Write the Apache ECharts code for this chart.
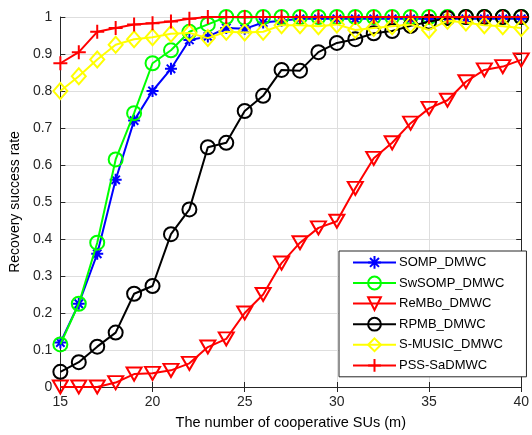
<!DOCTYPE html>
<html>
<head>
<meta charset="utf-8">
<script src="https://cdn.jsdelivr.net/npm/echarts@6/dist/echarts.min.js"></script>
<style>
  html, body { margin: 0; padding: 0; background: #fff; }
  #chart { width: 532px; height: 435px; }
</style>
</head>
<body>
<div id="chart"></div>
<script>
  // number of cooperative SUs
  const xData = [15, 16, 17, 18, 19, 20, 21, 22, 23, 24, 25, 26, 27, 28, 29, 30, 31, 32, 33, 34, 35, 36, 37, 38, 39, 40]

  const sompData = [0.12, 0.225, 0.36, 0.56, 0.72, 0.80, 0.86, 0.938, 0.947, 0.97, 0.968, 0.985, 0.99, 0.995, 0.995, 0.995, 0.995, 0.995, 0.995, 0.995, 0.995, 0.995, 0.995, 0.995, 0.995, 0.995]
  const swsompData = [0.115, 0.225, 0.39, 0.615, 0.74, 0.875, 0.91, 0.96, 0.98, 1.0, 0.998, 1.0, 1.0, 1.0, 1.0, 1.0, 1.0, 1.0, 1.0, 1.0, 1.0, 1.0, 1.0, 1.0, 1.0, 1.0]
  const rembo = [0.0, 0.0, 0.0, 0.012, 0.035, 0.037, 0.045, 0.064, 0.108, 0.13, 0.2, 0.25, 0.335, 0.39, 0.43, 0.448, 0.537, 0.618, 0.66, 0.713, 0.753, 0.775, 0.825, 0.857, 0.866, 0.884]
  const rpmbData = [0.041, 0.067, 0.109, 0.147, 0.252, 0.273, 0.413, 0.48, 0.648, 0.66, 0.746, 0.787, 0.857, 0.855, 0.905, 0.93, 0.94, 0.956, 0.962, 0.976, 0.987, 0.997, 1.0, 1.0, 1.0, 1.0]
  const smusicData = [0.80, 0.84, 0.885, 0.925, 0.94, 0.945, 0.955, 0.957, 0.943, 0.96, 0.958, 0.96, 0.978, 0.978, 0.975, 0.98, 0.965, 0.97, 0.975, 0.98, 0.965, 0.99, 0.985, 0.978, 0.975, 0.97]
  const pssData = [0.875, 0.905, 0.96, 0.97, 0.98, 0.983, 0.988, 0.995, 1.0, 1.0, 1.0, 1.0, 1.0, 1.0, 1.0, 1.0, 1.0, 1.0, 1.0, 1.0, 1.0, 1.0, 1.0, 1.0, 1.0, 1.0]

  const yTicks = ['0', '0.1', '0.2', '0.3', '0.4', '0.5', '0.6', '0.7', '0.8', '0.9', '1']

  const starPath = 'path://M10,0L10,20M0,10L20,10M3,3L17,17M3,17L17,3'
  const plusPath = 'path://M10,0L10,20M0,10L20,10'
  const triDown = 'path://M0,0L20,0L10,17Z'

  const fontFamily = '"Liberation Sans", Arial, sans-serif'

  function mkSeries(name, data, color, symbol, size, z) {
    return {
      name: name,
      type: 'line',
      z: z,
      data: data.map((v, i) => [xData[i], v]),
      symbol: symbol,
      symbolSize: size,
      clip: false,
      lineStyle: { color: color, width: 2 },
      itemStyle: { color: 'rgba(255,255,255,0)', borderColor: color, borderWidth: 2 },
      emphasis: { disabled: true }
    }
  }

  const chart = echarts.init(document.getElementById('chart'), null, { renderer: 'canvas' })
  chart.setOption({
    animation: false,
    textStyle: { fontFamily: fontFamily },
    grid: { left: 58, right: 5, top: 17, bottom: 48, containLabel: false },
    legend: {
      orient: 'vertical',
      left: 339,
      top: 251,
      padding: [4, 22, 4, 13],
      itemGap: 5.8,
      itemWidth: 43,
      itemHeight: 16,
      z: 20,
      backgroundColor: '#fff',
      borderColor: '#262626',
      borderWidth: 1,
      textStyle: { fontSize: 13, color: '#000', fontFamily: fontFamily, padding: [0, 0, 0, -2] },
      data: ['SOMP_DMWC', 'SwSOMP_DMWC', 'ReMBo_DMWC', 'RPMB_DMWC', 'S-MUSIC_DMWC', 'PSS-SaDMWC']
    },
    xAxis: [{
      type: 'value',
      min: 15,
      max: 40,
      interval: 5,
      name: 'The number of cooperative SUs (m)',
      nameLocation: 'middle',
      nameGap: 28,
      nameTextStyle: { fontSize: 14.5, color: '#000' },
      axisLine: { lineStyle: { color: '#262626', width: 1 } },
      axisTick: { inside: true, length: 5, lineStyle: { color: '#262626' } },
      axisLabel: { fontSize: 14, color: '#262626', margin: 8 },
      splitLine: { show: true, lineStyle: { color: '#dedede', width: 1 } }
    }, {
      type: 'value',
      position: 'top',
      min: 15,
      max: 40,
      interval: 5,
      axisLine: { show: true, lineStyle: { color: '#262626', width: 1 } },
      axisTick: { inside: true, length: 5, lineStyle: { color: '#262626' } },
      axisLabel: { show: false },
      splitLine: { show: false }
    }],
    yAxis: [{
      type: 'value',
      min: 0,
      max: 1,
      interval: 0.1,
      name: 'Recovery success rate',
      nameLocation: 'middle',
      nameGap: 28,
      nameTextStyle: { fontSize: 14, color: '#000' },
      axisLine: { show: true, lineStyle: { color: '#262626', width: 1 } },
      axisTick: { show: true, inside: true, length: 5, lineStyle: { color: '#262626' } },
      axisLabel: {
        fontSize: 14,
        color: '#262626',
        margin: 8,
        formatter: (v) => yTicks[Math.round(v * 10)]
      },
      splitLine: { show: true, lineStyle: { color: '#dedede', width: 1 } }
    }, {
      type: 'value',
      position: 'right',
      min: 0,
      max: 1,
      interval: 0.1,
      axisLine: { show: true, lineStyle: { color: '#262626', width: 1 } },
      axisTick: { show: true, inside: true, length: 5, lineStyle: { color: '#262626' } },
      axisLabel: { show: false },
      splitLine: { show: false }
    }],
    series: [
      mkSeries('SOMP_DMWC', sompData, '#0000ff', starPath, 12, 2),
      mkSeries('SwSOMP_DMWC', swsompData, '#00ff00', 'circle', 14, 3),
      mkSeries('ReMBo_DMWC', rembo, '#ff0000', triDown, [15, 13], 4),
      mkSeries('RPMB_DMWC', rpmbData, '#000000', 'circle', 14, 5),
      mkSeries('S-MUSIC_DMWC', smusicData, '#ffff00', 'diamond', [14, 16], 6),
      mkSeries('PSS-SaDMWC', pssData, '#ff0000', plusPath, 14, 7)
    ]
  })
</script>
</body>
</html>
